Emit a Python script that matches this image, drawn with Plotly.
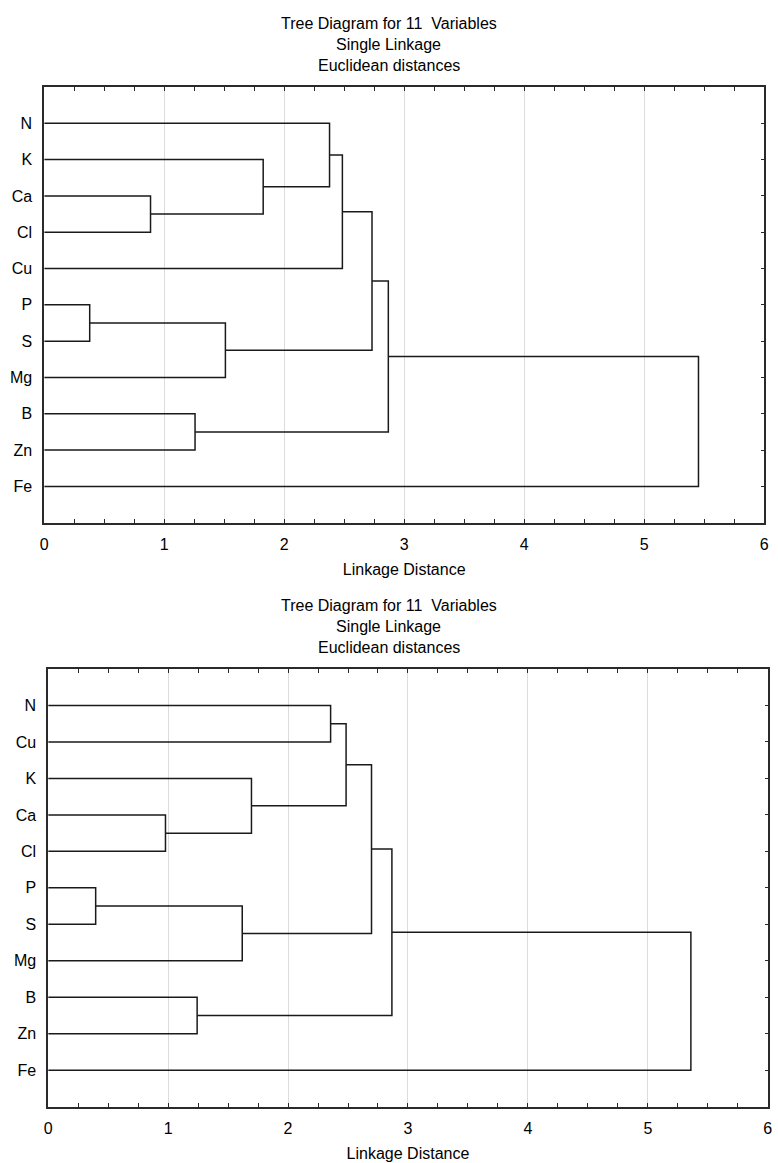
import plotly.graph_objects as go

# ---------------- data ----------------
title_lines = ["Tree Diagram for 11\u00a0 Variables", "Single Linkage", "Euclidean distances"]
x_title = "Linkage Distance"
x_ticks = [0, 1, 2, 3, 4, 5, 6]

# upper tree
leaves_a = ["N", "K", "Ca", "Cl", "Cu", "P", "S", "Mg", "B", "Zn", "Fe"]
merge_left_a = ["P", "Ca", "B", "#0", "K", "N", "#5", "#6", "#7", "#8"]
merge_right_a = ["S", "Cl", "Zn", "Mg", "#1", "#4", "Cu", "#3", "#2", "Fe"]
merge_dist_a = [0.379, 0.886, 1.257, 1.510, 1.825, 2.378, 2.485, 2.732, 2.868, 5.453]

# lower tree
leaves_b = ["N", "Cu", "K", "Ca", "Cl", "P", "S", "Mg", "B", "Zn", "Fe"]
merge_left_b = ["P", "Ca", "B", "#0", "K", "N", "#5", "#6", "#7", "#8"]
merge_right_b = ["S", "Cl", "Zn", "Mg", "#1", "Cu", "#4", "#3", "#2", "Fe"]
merge_dist_b = [0.396, 0.978, 1.242, 1.618, 1.695, 2.355, 2.484, 2.696, 2.866, 5.359]


def dendro_path(leaves, lefts, rights, dists):
    pos = {name: i + 1 for i, name in enumerate(leaves)}
    hgt = {name: 0.0 for name in leaves}
    xs, ys = [], []
    for k, (a, b, d) in enumerate(zip(lefts, rights, dists)):
        ya, yb = pos[a], pos[b]
        xs += [hgt[a], d, d, hgt[b], None]
        ys += [ya, ya, yb, yb, None]
        key = "#%d" % k
        pos[key] = (ya + yb) / 2.0
        hgt[key] = d
    return xs, ys


W, H = 778, 1163
FONT = "Arial, Liberation Sans, Helvetica, sans-serif"
LINE = "#1a1a1a"
FRAME = "#2a2a2a"
GRID = "#dcdcdc"

fig = go.Figure()

panels = [
    dict(leaves=leaves_a, L=merge_left_a, R=merge_right_a, D=merge_dist_a,
         xa="x", ya="y", yr="y3", px=(40.7, 769.0), py=(87.0, 522.7)),
    dict(leaves=leaves_b, L=merge_left_b, R=merge_right_b, D=merge_dist_b,
         xa="x2", ya="y2", yr="y4", px=(44.7, 772.7), py=(669.0, 1106.7)),
]

annotations = []
for i, p in enumerate(panels):
    xs, ys = dendro_path(p["leaves"], p["L"], p["R"], p["D"])
    fig.add_trace(go.Scatter(x=xs, y=ys, mode="lines", xaxis=p["xa"], yaxis=p["ya"],
                             line=dict(color=LINE, width=1.5), hoverinfo="skip",
                             showlegend=False))
    # invisible trace so the right-hand tick axis is drawn
    fig.add_trace(go.Scatter(x=[0], y=[1], mode="markers", xaxis=p["xa"], yaxis=p["yr"],
                             marker=dict(opacity=0), hoverinfo="skip", showlegend=False))
    n = len(p["leaves"])
    xdom = [p["px"][0] / W, p["px"][1] / W]
    ydom = [1 - p["py"][1] / H, 1 - p["py"][0] / H]
    sfx = "" if i == 0 else "2"
    fig.update_layout(**{
        "xaxis" + sfx: dict(
            domain=xdom, anchor=p["ya"], range=[x_ticks[0], x_ticks[-1]],
            tickvals=x_ticks, ticks="inside", ticklen=4, tickwidth=1, tickcolor=FRAME,
            minor=dict(ticks="inside", dtick=0.25, ticklen=3, tickcolor=FRAME, showgrid=False),
            showline=True, linecolor=FRAME, linewidth=1.7, mirror="allticks",
            showgrid=True, gridcolor=GRID, gridwidth=1, zeroline=False,
            tickfont=dict(family=FONT, size=16, color="#000"),
            ticklabelstandoff=6,
            title=dict(text=x_title, font=dict(family=FONT, size=16, color="#000"), standoff=12),
        ),
        "yaxis" + sfx: dict(
            domain=ydom, anchor=p["xa"], range=[n + 1, 0],
            tickvals=list(range(1, n + 1)), ticktext=p["leaves"], ticks="",
            showline=True, linecolor=FRAME, linewidth=1.7, mirror=True,
            showgrid=False, zeroline=False, ticklabelstandoff=7,
            tickfont=dict(family=FONT, size=16, color="#000"),
        ),
        ("yaxis3" if i == 0 else "yaxis4"): dict(
            overlaying=p["ya"], anchor=p["xa"], side="right", range=[n + 1, 0],
            tickvals=list(range(1, n + 1)), ticks="inside", ticklen=3, tickcolor=FRAME,
            showticklabels=False, showline=False, showgrid=False, zeroline=False,
        ),
    })
    # three-line title
    top = p["py"][0]
    for j, t in enumerate(title_lines):
        yc = top - 63.5 + j * 21.0
        annotations.append(dict(text=t, x=389 / W, xref="paper", xanchor="center",
                                y=1 - yc / H, yref="paper", yanchor="middle",
                                showarrow=False,
                                font=dict(family=FONT, size=16, color="#000")))

fig.update_layout(width=W, height=H, margin=dict(l=0, r=0, t=0, b=0),
                  paper_bgcolor="white", plot_bgcolor="white",
                  annotations=annotations, showlegend=False)

fig.write_html("out.html", config={"displayModeBar": False},
               post_script="document.body.style.margin='0';document.body.style.overflow='hidden';")
